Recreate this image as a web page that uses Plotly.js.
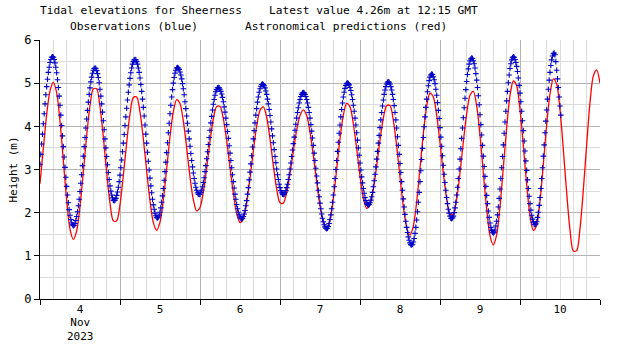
<!DOCTYPE html>
<html>
<head>
<meta charset="utf-8">
<script src="https://cdn.plot.ly/plotly-3.0.1.min.js"></script>
<style>html,body{margin:0;padding:0;background:#fff}#chart{width:620px;height:350px}</style>
</head>
<body>
<div id="chart"></div>
<script>
// ---- data ----
const obsStart = '2023-11-04T00:00:00Z';   // first observation
const obsStepMinutes = 15;
// observed heights (m), every 15 minutes
const observed = [
3.12,3.35,3.59,3.82,4.06,4.29,4.52,4.73,4.92,5.09,5.25,5.37,5.48,5.55,5.60,5.61,
5.60,5.55,5.47,5.37,5.24,5.08,4.90,4.70,4.49,4.26,4.02,3.78,3.53,3.29,3.05,2.82,2.61,2.41,2.23,2.07,1.94,1.84,1.76,1.72,1.70,
1.71,1.75,1.82,1.91,2.02,2.16,2.31,2.49,2.68,2.88,3.09,3.31,3.53,3.74,3.96,4.17,4.37,4.56,4.74,4.89,5.03,5.14,5.23,5.30,5.34,5.35,
5.34,5.29,5.22,5.13,5.01,4.86,4.70,4.52,4.33,4.13,3.92,3.71,3.50,3.30,3.11,2.93,2.77,2.62,2.50,2.41,2.34,2.29,2.28,
2.29,2.33,2.40,2.48,2.59,2.72,2.87,3.04,3.22,3.41,3.61,3.81,4.02,4.22,4.42,4.61,4.79,4.96,5.11,5.24,5.35,5.44,5.50,5.54,5.55,
5.54,5.50,5.44,5.35,5.25,5.12,4.97,4.81,4.63,4.44,4.24,4.03,3.82,3.61,3.40,3.19,2.99,2.80,2.62,2.46,2.31,2.18,2.08,1.99,1.93,1.89,1.88,
1.90,1.94,2.01,2.11,2.24,2.39,2.56,2.75,2.95,3.17,3.39,3.62,3.85,4.07,4.29,4.49,4.68,4.85,5.00,5.13,5.23,5.30,5.35,5.36,
5.35,5.32,5.26,5.19,5.10,4.99,4.87,4.73,4.57,4.41,4.24,4.07,3.89,3.71,3.54,3.37,3.21,3.06,2.92,2.79,2.68,2.59,2.52,2.46,2.43,2.42,
2.43,2.47,2.52,2.60,2.70,2.81,2.95,3.09,3.25,3.41,3.58,3.74,3.91,4.08,4.23,4.38,4.51,4.62,4.72,4.80,4.85,4.89,4.90,
4.89,4.86,4.81,4.75,4.67,4.57,4.45,4.33,4.19,4.04,3.88,3.72,3.55,3.38,3.21,3.04,2.88,2.72,2.57,2.43,2.31,2.19,2.09,2.01,1.95,1.90,1.87,1.86,
1.87,1.91,1.97,2.05,2.16,2.28,2.43,2.58,2.76,2.94,3.13,3.32,3.52,3.71,3.90,4.08,4.26,4.41,4.56,4.68,4.79,4.87,4.93,4.97,4.98,
4.97,4.94,4.89,4.82,4.74,4.63,4.52,4.39,4.25,4.10,3.94,3.78,3.62,3.46,3.30,3.16,3.01,2.88,2.77,2.66,2.58,2.51,2.46,2.43,2.42,
2.43,2.46,2.51,2.58,2.66,2.77,2.88,3.01,3.15,3.30,3.45,3.60,3.75,3.91,4.05,4.19,4.32,4.43,4.54,4.62,4.69,4.74,4.77,4.78,
4.77,4.74,4.69,4.62,4.54,4.44,4.32,4.19,4.04,3.89,3.73,3.56,3.38,3.21,3.03,2.85,2.69,2.52,2.37,2.22,2.09,1.97,1.87,1.79,1.72,1.67,1.64,1.63,
1.64,1.68,1.75,1.84,1.95,2.09,2.24,2.41,2.60,2.79,3.00,3.21,3.42,3.63,3.84,4.03,4.22,4.39,4.54,4.68,4.79,4.88,4.95,4.99,5.00,
4.99,4.96,4.90,4.83,4.73,4.62,4.49,4.35,4.19,4.03,3.85,3.68,3.50,3.33,3.15,2.99,2.83,2.69,2.56,2.45,2.35,2.28,2.22,2.19,2.18,
2.19,2.23,2.29,2.37,2.47,2.60,2.74,2.89,3.06,3.24,3.42,3.61,3.79,3.97,4.15,4.32,4.47,4.61,4.74,4.84,4.92,4.98,5.02,5.03,
5.02,4.98,4.92,4.84,4.74,4.62,4.48,4.32,4.15,3.96,3.76,3.56,3.35,3.14,2.93,2.72,2.52,2.32,2.13,1.96,1.80,1.66,1.54,1.44,1.36,1.30,1.26,1.25,
1.27,1.32,1.40,1.52,1.66,1.83,2.02,2.24,2.47,2.72,2.97,3.23,3.49,3.74,3.99,4.22,4.44,4.63,4.80,4.94,5.06,5.14,5.19,5.21,
5.20,5.15,5.08,4.99,4.86,4.72,4.55,4.37,4.18,3.97,3.75,3.54,3.32,3.10,2.89,2.70,2.52,2.35,2.21,2.08,1.99,1.92,1.87,1.86,
1.88,1.92,2.00,2.11,2.24,2.41,2.59,2.79,3.01,3.24,3.48,3.72,3.96,4.20,4.43,4.65,4.85,5.04,5.20,5.33,5.44,5.52,5.56,5.58,
5.57,5.52,5.45,5.35,5.22,5.07,4.90,4.71,4.50,4.27,4.04,3.80,3.56,3.31,3.07,2.84,2.61,2.40,2.21,2.04,1.89,1.76,1.66,1.59,1.55,1.53,
1.55,1.60,1.69,1.80,1.95,2.13,2.33,2.55,2.79,3.04,3.30,3.57,3.84,4.10,4.35,4.59,4.81,5.01,5.19,5.34,5.45,5.54,5.59,5.61,
5.60,5.55,5.48,5.39,5.27,5.12,4.95,4.77,4.57,4.35,4.13,3.90,3.66,3.43,3.20,2.98,2.76,2.56,2.38,2.21,2.06,1.94,1.85,1.78,1.73,1.72,
1.74,1.79,1.89,2.01,2.17,2.35,2.56,2.79,3.04,3.31,3.57,3.85,4.12,4.38,4.63,4.86,5.07,5.25,5.41,5.54,5.63,5.68,5.70,
5.66,5.50,5.30,5.10,4.90,4.68,4.47,4.26
];

const predStart = '2023-11-04T00:00:00Z';
const predStepMinutes = 60;
// astronomical predictions (m), hourly
const predicted = [
2.67,3.49,4.27,4.82,5.02,4.78,4.11,3.20,2.29,1.62,1.38,1.58,2.15,2.94,3.78,4.48,4.87,4.87,4.46,3.75,2.93,2.22,1.81,1.81,
2.19,2.86,3.62,4.29,4.67,4.68,4.33,3.71,2.97,2.27,1.77,1.59,1.78,2.30,3.01,3.76,4.34,4.62,4.53,4.12,3.50,2.83,2.30,2.04,
2.12,2.48,3.03,3.65,4.17,4.46,4.46,4.18,3.67,3.05,2.45,1.99,1.77,1.85,2.22,2.79,3.43,4.01,4.37,4.45,4.21,3.71,3.09,2.55,
2.23,2.22,2.47,2.90,3.42,3.91,4.25,4.38,4.25,3.87,3.32,2.71,2.16,1.78,1.65,1.83,2.32,3.00,3.71,4.26,4.53,4.45,4.06,3.48,
2.85,2.34,2.10,2.18,2.53,3.08,3.68,4.19,4.48,4.48,4.14,3.54,2.82,2.14,1.66,1.48,1.69,2.25,3.03,3.83,4.47,4.77,4.68,4.26,
3.62,2.91,2.31,1.96,1.97,2.31,2.92,3.64,4.29,4.72,4.81,4.48,3.80,2.92,2.08,1.47,1.25,1.49,2.14,3.04,3.97,4.71,5.05,4.94,
4.39,3.55,2.65,1.93,1.59,1.71,2.26,3.11,4.03,4.75,5.10,4.98,4.38,3.47,2.46,1.60,1.11,1.12,1.63,2.53,3.58,4.55,5.17,5.31,
5.00
];

const xRange = ['2023-11-04 00:00', '2023-11-11 00:00'];
const dayLabelAt = ['2023-11-04 12:00','2023-11-05 12:00','2023-11-06 12:00','2023-11-07 12:00','2023-11-08 12:00','2023-11-09 12:00','2023-11-10 12:00'];
const dayLabels = ['4','5','6','7','8','9','10'];
const monthYearLabel = 'Nov<br>2023';
const yTicks = [0,1,2,3,4,5,6];
const titleLine1 = 'Tidal elevations for Sheerness    Latest value 4.26m at 12:15 GMT';
const titleLine2 = 'Observations (blue)       Astronomical predictions (red)';
const yTitle = 'Height (m)';

// ---- build time stamps from start + step ----
function times(start, stepMin, n) {
  const t0 = Date.parse(start);
  const out = [];
  for (let i = 0; i < n; i++) {
    const d = new Date(t0 + i * stepMin * 60000);
    out.push(d.toISOString().slice(0, 16).replace('T', ' '));
  }
  return out;
}

const FONT = '"DejaVu Sans Mono", "Liberation Mono", monospace';
const nb = s => s.replace(/ /g, '\u00a0');

const traces = [
  {
    type: 'scatter', mode: 'lines', name: 'Astronomical predictions',
    x: times(predStart, predStepMinutes, predicted.length), y: predicted,
    line: {color: '#ff0000', width: 1.3, shape: 'spline', smoothing: 0.8},
    hoverinfo: 'skip', showlegend: false
  },
  {
    type: 'scatter', mode: 'markers', name: 'Observations',
    x: times(obsStart, obsStepMinutes, observed.length), y: observed,
    marker: {symbol: 'cross-thin', size: 4, color: '#0000c8', line: {color: '#0000c8', width: 1.1}},
    hoverinfo: 'skip', showlegend: false
  },
  {
    type: 'scatter', mode: 'markers', x: [], y: [], xaxis: 'x2', yaxis: 'y',
    showlegend: false, hoverinfo: 'skip'
  }
];

const layout = {
  width: 620, height: 350,
  margin: {l: 40, r: 20, t: 40, b: 51},
  paper_bgcolor: '#ffffff', plot_bgcolor: '#ffffff',
  font: {family: FONT, size: 11, color: '#000000'},
  showlegend: false,
  xaxis: {
    type: 'date', range: xRange,
    tickmode: 'linear', tick0: '2023-11-04', dtick: 86400000,
    ticks: 'outside', ticklen: 5, tickcolor: '#000000', tickwidth: 1,
    showticklabels: false,
    showgrid: true, gridcolor: '#b4b4b4', gridwidth: 1,
    minor: {dtick: 4 * 3600000, tick0: '2023-11-04', showgrid: true, gridcolor: '#dcdcdc', gridwidth: 1, ticks: ''},
    showline: true, linecolor: '#000000', linewidth: 1,
    zeroline: false, fixedrange: true
  },
  xaxis2: {
    type: 'date', range: xRange, overlaying: 'x', anchor: 'y', side: 'bottom',
    tickmode: 'array', tickvals: dayLabelAt, ticktext: dayLabels,
    ticks: '', showgrid: false, showline: false, zeroline: false,
    tickfont: {family: FONT, size: 11, color: '#000000'},
    ticklabelstandoff: 2
  },
  yaxis: {
    range: [0, 6], tickmode: 'array', tickvals: yTicks, ticktext: yTicks.map(String),
    ticks: 'outside', ticklen: 5, tickcolor: '#000000', tickwidth: 1,
    tickfont: {family: FONT, size: 12, color: '#000000'},
    showgrid: true, gridcolor: '#b4b4b4', gridwidth: 1,
    minor: {dtick: 0.5, tick0: 0, showgrid: true, gridcolor: '#dcdcdc', gridwidth: 1, ticks: ''},
    showline: true, linecolor: '#000000', linewidth: 1,
    zeroline: false, fixedrange: true,
    title: {text: yTitle, font: {family: FONT, size: 11, color: '#000000'}, standoff: 4}
  },
  annotations: [
    {xref: 'paper', yref: 'paper', x: (258.5 - 40) / 560, y: (299 - 10) / 259, xanchor: 'center', yanchor: 'middle',
     text: nb(titleLine1), showarrow: false, font: {family: FONT, size: 11.2, color: '#000000'}},
    {xref: 'paper', yref: 'paper', x: (258 - 40) / 560, y: (299 - 26) / 259, xanchor: 'center', yanchor: 'middle',
     text: nb(titleLine2), showarrow: false, font: {family: FONT, size: 11.2, color: '#000000'}},
    {xref: 'x', yref: 'paper', x: dayLabelAt[0], y: (299 - 315) / 259, xanchor: 'center', yanchor: 'top',
     text: monthYearLabel, showarrow: false, borderpad: 0, font: {family: FONT, size: 11, color: '#000000'}}
  ]
};

Plotly.newPlot('chart', traces, layout, {displayModeBar: false, staticPlot: true});
</script>
</body>
</html>
